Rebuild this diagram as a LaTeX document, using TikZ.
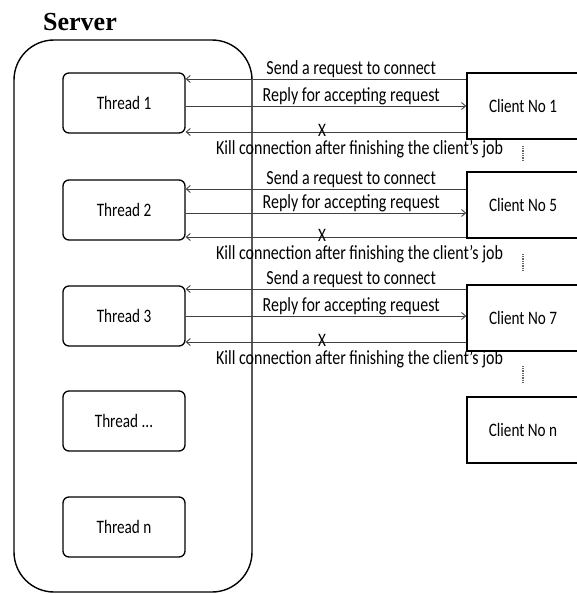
\documentclass[tikz,border=0pt]{standalone}
\usepackage{fontspec}
\setmainfont{Carlito}[FakeStretch=0.8]
\newfontfamily\serverfont{Liberation Serif}
\usetikzlibrary{arrows.meta, positioning}
\tikzset{
  server/.style={rectangle, rounded corners=40pt, minimum width=238pt, minimum height=552pt, draw=black, line width=1.4pt},
  thread/.style={rectangle, rounded corners=6pt, minimum width=122pt, minimum height=60pt, text centered, draw=black, line width=1.3pt, font=\fontsize{19}{21}\selectfont},
  client/.style={rectangle, minimum width=112pt, minimum height=66pt, text centered, draw=black, line width=1.6pt, font=\fontsize{19}{21}\selectfont},
  msg/.style={draw=black!75, line width=0.9pt, -{Straight Barb[length=4pt,width=7pt]}},
  msglabel/.style={font=\fontsize{20}{22}\selectfont, inner sep=1pt},
  cross/.style={font=\fontsize{19}{21}\selectfont, inner sep=0pt, yshift=1.5pt},
  gap/.style={densely dotted, line width=1.3pt, draw=black!60}
}

\begin{document}
\begin{tikzpicture}[x=1pt,y=-1pt]
\useasboundingbox (0,0) rectangle (576,594);

% Server side
\node[server] (server) at (133,316) {};
\node[font=\serverfont\bfseries\fontsize{26}{28}\selectfont] (serverlabel) at (80,22) {Server};

\node[thread] (t1) at (124,103) {Thread 1};
\node[thread] (t2) at (124,210) {Thread 2};
\node[thread] (t3) at (124,316) {Thread 3};
\node[thread] (t4) at (124,421) {Thread ...};
\node[thread] (t5) at (124,527) {Thread n};

% Clients
\node[client] (c1) at (523,106) {Client No 1};
\node[client] (c5) at (523,205) {Client No 5};
\node[client] (c7) at (523,318) {Client No 7};
\node[client] (cn) at (523,430) {Client No n};

% Messages between each client and its thread
\foreach \c/\t/\s/\r/\k in {c1/t1/27/0/-26, c5/t2/16/-8/-32, c7/t3/29/2/-24}{
  \coordinate (send\c) at ([yshift=\s pt]\c.west);
  \coordinate (reply\c) at ([yshift=\r pt]\c.west);
  \coordinate (kill\c) at ([yshift=\k pt]\c.west);
  \draw[msg] (send\c) -- (send\c -| \t.east)
    node[msglabel, pos=0.41, above] {Send a request to connect};
  \draw[msg] (reply\c -| \t.east) -- (reply\c)
    node[msglabel, pos=0.59, above] {Reply for accepting request};
  \draw[msg] (kill\c) -- (kill\c -| \t.east)
    node[cross, pos=0.514] {X}
    node[msglabel, pos=0.38, below=7pt] {Kill connection after finishing the client's job};
}

% Clients left out
\draw[gap] ([yshift=-6pt]c1.south) -- ([yshift=10pt]c5.north);
\draw[gap] ([yshift=-15pt]c5.south) -- ([yshift=13pt]c7.north);
\draw[gap] ([yshift=-14pt]c7.south) -- ([yshift=14pt]cn.north);
\end{tikzpicture}
\end{document}
